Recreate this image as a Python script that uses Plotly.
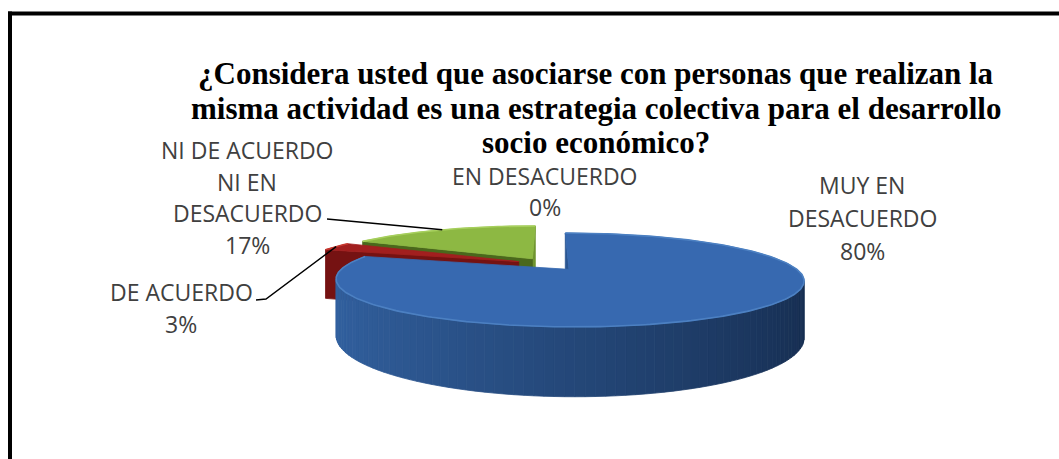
import numpy as np
import plotly.graph_objects as go

# ---------------- data ----------------
categories = ["MUY EN DESACUERDO", "DE ACUERDO", "NI DE ACUERDO NI EN DESACUERDO", "EN DESACUERDO"]
values = [80, 3, 17, 0]
label_lines = [["MUY EN", "DESACUERDO"], ["DE ACUERDO"], ["NI DE ACUERDO", "NI EN", "DESACUERDO"], ["EN DESACUERDO"]]
title_lines = [
    "¿Considera usted que asociarse con personas que realizan la",
    "misma actividad es una estrategia colectiva para el desarrollo",
    "socio económico?",
]

# ---------------- styles ----------------
top_colors = ["#3769B0", "#A21F1F", "#8DB843", "#8DB843"]
rim_colors = ["#4C80C2", "#C8382F", "#A6CF5C", "#A6CF5C"]
wall_left = [(50, 97, 160), (140, 25, 25), (122, 158, 53), (122, 158, 53)]
wall_right = [(22, 45, 80), (90, 10, 10), (90, 122, 37), (90, 122, 37)]
face_start = ["#2A5590", "#751212", "#4A681C", "#4A681C"]
face_end = ["#24497C", "#6A1010", "#6F9430", "#6F9430"]

# label placement (centre x, first line y, line pitch)
label_pos = [(862, 185, 33), (181, 291.5, 32), (247, 150, 31.7), (545, 176, 31)]
leader_start = {1: [(256, 300), (266, 299)], 2: [(327, 219)]}

W, H = 1059, 459
CX, CY = 548.9, 264.1
A, B, HH = 221.8, 42.2, 52.6
PERSP = 0.22
EXPLODE = 0.15
CAM_Z = -1.0 / PERSP


def proj(X, Z, Y):
    s = 1.0 / (1.0 + PERSP * np.asarray(Z))
    return CX + A * np.asarray(X) * s, CY - (B * np.asarray(Z) + HH * np.asarray(Y)) * s


def mix(c1, c2, t):
    return "rgb(%d,%d,%d)" % tuple(int(round(a + (b - a) * t)) for a, b in zip(c1, c2))


fig = go.Figure()


def add_poly(xs, ys, color):
    xs = list(xs) + [xs[0]]
    ys = list(ys) + [ys[0]]
    fig.add_trace(go.Scatter(x=xs, y=ys, mode="lines", fill="toself", fillcolor=color,
                             line=dict(color=color, width=0.8), hoverinfo="skip", showlegend=False))


total = float(sum(values))
cum = np.cumsum([0] + values)
slices = []
for i, v in enumerate(values):
    ts = np.radians(360.0 * cum[i] / total)
    te = np.radians(360.0 * cum[i + 1] / total)
    tm = 0.5 * (ts + te)
    xc, zc = EXPLODE * np.sin(tm), EXPLODE * np.cos(tm)
    slices.append(dict(i=i, ts=ts, te=te, tm=tm, xc=xc, zc=zc, v=v))

rim_mid = {}
for sl in slices:
    X = sl["xc"] + np.sin(sl["tm"])
    Z = sl["zc"] + np.cos(sl["tm"])
    rim_mid[sl["i"]] = proj(X, Z, 0)

# draw back to front
for sl in sorted([s for s in slices if s["v"] > 0], key=lambda s: -s["zc"]):
    i, ts, te, xc, zc = sl["i"], sl["ts"], sl["te"], sl["xc"], sl["zc"]
    faces = []
    # outer wall strips
    n = max(2, int(np.degrees(te - ts) / 2))
    th = np.linspace(ts, te, n + 1)
    for k in range(n):
        ta, tb = th[k], th[k + 1]
        tk = 0.5 * (ta + tb)
        nx, nz = np.sin(tk), np.cos(tk)
        px, pz = xc + nx, zc + nz
        if nx * (0 - px) + nz * (CAM_Z - pz) <= 0:
            continue
        Xs = [xc + np.sin(ta), xc + np.sin(tb), xc + np.sin(tb), xc + np.sin(ta)]
        Zs = [zc + np.cos(ta), zc + np.cos(tb), zc + np.cos(tb), zc + np.cos(ta)]
        Ys = [0, 0, -1, -1]
        t = (np.sin(tk) + 1) / 2
        faces.append((pz, Xs, Zs, Ys, mix(wall_left[i], wall_right[i], t)))
    # radial faces
    for ang, nrm, col in [(ts, (-np.cos(ts), np.sin(ts)), face_start[i]),
                          (te, (np.cos(te), -np.sin(te)), face_end[i])]:
        px, pz = xc + 0.5 * np.sin(ang), zc + 0.5 * np.cos(ang)
        if nrm[0] * (0 - px) + nrm[1] * (CAM_Z - pz) <= 0:
            continue
        Xs = [xc, xc + np.sin(ang), xc + np.sin(ang), xc]
        Zs = [zc, zc + np.cos(ang), zc + np.cos(ang), zc]
        Ys = [0, 0, -1, -1]
        faces.append((pz, Xs, Zs, Ys, col))
    for f in sorted(faces, key=lambda f: -f[0]):
        x, y = proj(f[1], f[2], f[3])
        add_poly(x, y, f[4])
    # top face
    tt = np.linspace(ts, te, max(3, int(np.degrees(te - ts)) + 1))
    Xt = np.concatenate([[xc], xc + np.sin(tt)])
    Zt = np.concatenate([[zc], zc + np.cos(tt)])
    x, y = proj(Xt, Zt, np.zeros_like(Xt))
    add_poly(x, y, top_colors[i])
    # rim highlight
    x, y = proj(xc + np.sin(tt), zc + np.cos(tt), np.zeros_like(tt))
    fig.add_trace(go.Scatter(x=x, y=y, mode="lines", line=dict(color=rim_colors[i], width=1.6),
                             hoverinfo="skip", showlegend=False))

# leader lines
for i, pts in leader_start.items():
    xs = [p[0] for p in pts] + [float(rim_mid[i][0])]
    ys = [p[1] for p in pts] + [float(rim_mid[i][1])]
    fig.add_trace(go.Scatter(x=xs, y=ys, mode="lines", line=dict(color="#000000", width=1.4),
                             hoverinfo="skip", showlegend=False))

annotations = []
for i, lines in enumerate(label_lines):
    x0, y0, pitch = label_pos[i]
    all_lines = lines + ["%d%%" % round(100.0 * values[i] / total)]
    for k, t in enumerate(all_lines):
        annotations.append(dict(x=x0, y=y0 + k * pitch, xref="x", yref="y", text=t, showarrow=False,
                                xanchor="center", yanchor="middle",
                                font=dict(family="Open Sans", size=23, color="#404040")))

title_y = [73.5, 108, 142.5]
for k, t in enumerate(title_lines):
    annotations.append(dict(x=596, y=title_y[k], xref="x", yref="y", text="<b>%s</b>" % t, showarrow=False,
                            xanchor="center", yanchor="middle",
                            font=dict(family="Liberation Serif", size=31, color="#000000")))

shapes = [
    dict(type="line", xref="x", yref="y", x0=8, x1=W, y0=13.5, y1=13.5, line=dict(color="#000000", width=4)),
    dict(type="line", xref="x", yref="y", x0=10, x1=10, y0=11.5, y1=H, line=dict(color="#000000", width=4)),
]

fig.update_layout(
    width=W, height=H,
    margin=dict(l=0, r=0, t=0, b=0, pad=0),
    paper_bgcolor="white", plot_bgcolor="white",
    xaxis=dict(range=[0, W], visible=False, fixedrange=True, domain=[0, 1]),
    yaxis=dict(range=[H, 0], visible=False, fixedrange=True, domain=[0, 1]),
    annotations=annotations,
    shapes=shapes,
    showlegend=False,
)

fig.write_html("out.html")
